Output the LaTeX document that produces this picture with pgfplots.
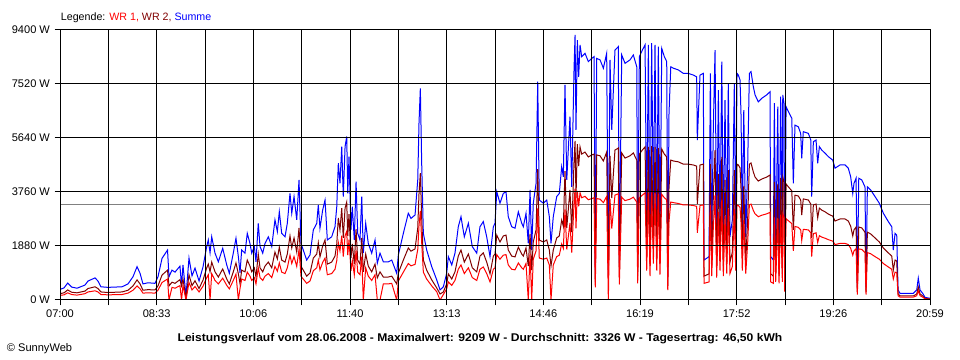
\documentclass[border=0pt]{standalone}
\usepackage{graphicx}
\usepackage{pgfplots}
\pgfplotsset{compat=1.18}
\usepackage{pgfplotstable}
\usepackage{fontspec}
\setmainfont{Liberation Sans}
\definecolor{wrone}{RGB}{255,0,0}
\definecolor{wrtwo}{RGB}{128,0,0}
\definecolor{summe}{RGB}{0,0,255}
\definecolor{avgline}{RGB}{128,128,128}

\pgfplotstableread{
m sum wr2 wr1
0 370 220 160
3.9 420 250 180
7.4 590 350 250
11.3 450 270 190
16.4 410 250 170
24.1 520 310 220
27.0 660 400 280
33.8 770 460 320
36.6 660 400 280
39.5 460 280 190
46.3 440 260 180
59.8 460 280 190
65.6 560 340 240
70.4 810 490 340
74.3 1160 700 490
77.2 930 560 390
80.0 560 340 240
84.9 600 360 250
91.6 580 350 240
94.5 810 490 340
98.4 1450 870 610
103.7 1740 1040 730
105.1 810 490 0
108.0 1040 620 440
110.9 970 580 410
115.7 1180 710 500
117.2 490 490 0
118.6 1220 730 510
121.5 140 80 0
124.4 1460 880 610
127.3 840 500 350
130.2 1110 670 470
134.1 660 400 280
137.9 1150 690 480
141.5 1860 1120 780
143.0 2090 1250 880
144.7 1640 980 0
146.3 2200 1320 920
149.5 1630 980 680
152.7 1330 800 560
156.9 1800 1080 760
160.8 1220 730 510
163.3 930 560 390
167.1 1630 980 680
169.7 2150 1290 900
172.0 1510 910 0
173.6 950 570 400
175.2 1740 1040 730
178.4 1630 980 680
180.6 2320 1390 970
183.2 1970 1180 830
184.9 1630 980 680
187.4 1860 1120 780
189.0 1330 800 560
191.2 2670 1600 1120
192.9 1860 1120 780
195.5 1630 980 680
197.7 1970 1180 830
200.9 2200 1320 920
204.2 1860 1120 780
207.3 2790 1670 1170
209.6 2380 1430 1000
211.5 3070 1840 1290
213.8 2320 1390 970
217.0 2200 1320 920
219.2 2670 1600 1120
221.8 3710 2230 1560
223.5 3020 1810 1270
225.7 3600 2160 1510
228.3 2790 1670 1170
230.5 4180 2510 1760
232.4 1970 1180 830
234.6 1740 1040 730
237.9 1390 830 580
241.1 1570 940 660
244.3 2440 1460 1020
247.6 2670 1600 1120
249.1 3310 1990 1390
250.7 2500 1500 1050
253.3 3130 1880 1310
255.6 3480 2090 1460
257.8 2090 1250 880
262.0 2200 1320 920
265.2 2550 1530 1070
266.9 3250 1950 1370
268.4 4760 2860 2000
270.0 4060 2440 1710
271.7 5340 3200 2240
273.2 3600 2160 1510
274.9 5340 3200 2240
276.5 5690 3410 2390
277.5 3710 2230 1560
278.7 4990 2990 2100
280.6 2440 1460 1020
281.9 3250 1950 1370
283.8 2090 1250 880
285.5 4120 2470 1730
287.1 2320 1390 970
289.3 2090 1250 880
291.0 3600 2160 1510
292.5 1630 980 0
294.8 2670 1600 1120
297.3 1970 1180 830
300.6 1630 980 680
303.8 2090 1250 880
306.0 1280 770 0
308.6 1630 980 0
311.8 1330 800 560
316.6 1330 800 560
319.9 1390 830 580
324.7 930 560 0
326.3 1570 940 660
331.1 2320 1390 970
335.9 3020 1810 1270
338.5 2840 1700 1190
342.4 2960 1780 1240
345.0 4180 2510 1760
346.2 6150 3690 2580
347.5 7370 4420 3100
348.8 4760 2860 2000
350.4 2320 1390 970
353.6 1740 1040 730
358.5 1160 700 490
363.3 700 420 290
366.5 350 210 0
369.7 460 280 190
372.9 930 560 390
374.5 1510 910 630
377.8 1220 730 510
380.9 1630 980 680
384.1 2550 1530 1070
386.7 2900 1740 1220
389.9 2200 1320 920
393.8 2670 1600 1120
397.6 1860 1120 780
401.9 1630 980 680
405.0 2550 1530 1070
408.2 2730 1640 1150
411.5 2200 1320 920
414.7 1510 910 630
417.9 2550 1530 1070
419.5 2670 1600 1120
421.2 3770 2260 1580
424.3 3370 2020 1420
427.5 3710 2230 1560
430.1 3770 2260 1580
432.3 2900 1740 1220
435.6 2550 1530 1070
438.8 2500 1500 1050
442.0 3070 1840 1290
445.3 2670 1600 1120
446.8 2550 1530 1070
449.4 3020 1810 1270
451.6 1970 1180 0
453.3 3830 2300 1610
454.9 1740 1040 0
456.4 3370 2020 1420
459.1 4060 2440 1710
460.7 7600 4560 3190
461.3 5920 3550 2490
462.2 3480 2090 1460
466.1 3370 2020 1420
469.4 3480 2090 1460
471.9 2900 1740 1220
473.5 1970 1180 0
475.7 2900 1740 1220
479.0 3600 2160 1510
481.5 3710 2230 1560
483.8 4640 2780 1950
485.4 4290 2570 1800
487.0 7490 4490 3150
488.7 4180 2510 1760
491.8 6380 3830 2680
493.5 3940 2360 1650
495.7 8010 4810 3360
496.7 9230 5540 3880
497.6 5920 3550 2490
498.9 9050 5430 3800
500.2 7770 4660 3260
501.5 8880 5330 3730
503.1 8470 5080 3560
506.3 8590 5150 3610
509.5 8300 4980 3490
512.8 8410 5050 3530
515.0 8470 5080 3560
516.2 1040 620 440
517.6 8410 5050 3530
520.8 8360 5020 3510
524.0 8070 4840 3390
527.2 8590 5150 3610
528.8 810 800 0
530.4 8360 5020 3510
532.1 5920 3550 2490
535.2 8700 5220 3650
538.4 8820 5290 3700
539.4 1280 770 540
541.7 8530 5120 3580
544.9 8240 4940 3460
549.7 8360 5020 3510
552.9 8530 5120 3580
556.2 8120 4870 3410
557.1 1390 830 580
558.7 8470 5080 3560
561.6 8700 5220 3650
564.2 8880 5330 3730
565.8 2440 1460 1020
567.4 8880 5330 3730
569.0 1970 1180 830
570.6 8940 5360 3750
572.2 3020 1810 1270
573.8 8880 5330 3730
575.5 2440 1460 1020
577.0 8820 5290 3700
578.6 2090 1250 880
580.3 8760 5260 3680
582.8 8470 5080 3560
585.1 8300 4980 3490
586.1 810 490 340
587.3 6500 3900 2730
589.0 8120 4870 3410
591.5 8070 4840 3390
596.3 8010 4810 3360
601.1 7890 4730 3310
605.9 7890 4730 3310
610.8 7830 4700 3290
614.0 7770 4660 3260
614.6 5570 3340 2340
617.2 7830 4700 3290
620.4 7890 4730 3310
621.1 1390 830 580
625.9 1510 910 630
627.2 7890 4730 3310
628.5 1970 1180 830
630.0 5920 3550 2490
631.7 8700 5220 3650
633.3 1860 1120 780
634.9 7310 4390 3070
636.5 2440 1460 1020
638.2 8300 4980 3490
639.7 1970 1180 830
641.3 6960 4180 2920
643.0 2200 1320 920
644.5 7540 4520 3170
646.1 2200 1320 920
648.4 2790 1670 1170
650.3 7540 4520 3170
651.6 2440 1460 1020
652.9 7890 4730 3310
654.2 7830 4700 3290
655.8 7660 4600 3220
656.8 6380 3830 2680
658.0 2440 1460 1020
659.4 6610 3970 2780
661.3 2200 1320 920
663.2 4760 2860 2000
664.8 7890 4730 3310
666.4 7950 4770 3340
668.6 7430 4460 3120
670.3 7140 4280 3000
673.4 6900 4140 2900
676.7 7020 4210 2950
681.5 7140 4280 3000
684.7 7250 4350 3050
685.4 1510 910 630
687.9 1390 830 580
688.9 6850 4110 2880
690.2 1510 910 630
692.2 6730 4040 2830
693.4 1390 830 580
695.0 7080 4250 2970
696.6 1510 910 630
697.0 7140 4280 3000
698.2 6850 4110 2880
698.9 700 420 290
700.2 6730 4040 2830
702.4 6560 3940 2760
705.7 6330 3800 2660
707.2 4060 2440 1710
708.8 6090 3650 2560
712.0 6030 3620 2530
714.3 5800 3480 2440
715.3 4930 2960 2070
716.8 5860 3520 2460
721.7 5800 3480 2440
724.0 5570 3340 2340
724.9 3600 2160 1510
726.5 5510 3310 2310
729.1 5570 3340 2340
730.7 4760 2860 2000
732.3 5340 3200 2240
734.6 5220 3130 2190
737.8 5110 3070 2150
741.0 4990 2990 2100
745.2 4870 2920 2050
747.4 4590 2750 1930
752.2 4700 2820 1970
757.1 4700 2820 1970
760.2 4590 2750 1930
762.5 4290 2570 1800
764.5 3710 2230 1560
765.7 4060 2440 1710
767.7 4240 2540 1780
768.9 460 280 190
770.3 4240 2540 1780
773.2 4180 2510 1760
776.3 3940 2360 1650
777.3 460 280 190
778.6 3940 2360 1650
781.8 3830 2300 1610
786.0 3600 2160 1510
790.1 3370 2020 1420
794.0 3020 1810 1270
798.8 2730 1640 1150
802.1 2550 1530 1070
803.6 1740 1040 730
805.3 2320 1390 970
806.9 2260 1360 950
808.2 350 210 150
810.1 230 140 100
822.9 230 140 100
826.2 350 210 150
827.7 760 460 320
829.4 350 210 150
832.0 230 140 100
834.2 90 50 40
839 60 40 20
}\data

\begin{document}
\begin{tikzpicture}
\useasboundingbox (-45pt,-45pt) rectangle (675pt,225pt);
\begin{axis}[
  scale only axis, width=652.5pt, height=202.5pt,
  at={(0pt,0pt)}, anchor=south west,
  xmin=0, xmax=839, ymin=0, ymax=9400,
  axis on top,
  xtick={0,93.222,186.444,279.667,372.889,466.111,559.333,652.556,745.778,839},
  xticklabels={07:00,08:33,10:06,11:40,13:13,14:46,16:19,17:52,19:26,20:59},
  minor xtick={46.611,139.833,233.056,326.278,419.5,512.722,605.944,699.167,792.389},
  ytick={0,1880,3760,5640,7520,9400},
  yticklabels={0 W,1880 W,3760 W,5640 W,7520 W,9400 W},
  grid=both,
  major grid style={black, line width=0.75pt},
  minor grid style={black, line width=0.75pt},
  axis line style={black, line width=0.75pt},
  tick align=outside, tick pos=left,
  major tick length=4pt, minor tick length=4pt,
  every tick/.style={black, line width=0.75pt},
  minor tick style={black, line width=0.75pt},
  xticklabel style={font=\fontsize{8.3}{10}\selectfont},
  yticklabel style={font=\fontsize{8.3}{10}\selectfont},
]
\addplot[avgline, line width=0.75pt, forget plot] coordinates {(0,3326) (839,3326)};
\addplot[summe, line width=0.75pt] table[x=m,y=sum]{\data};
\addplot[wrtwo, line width=0.75pt] table[x=m,y=wr2]{\data};
\addplot[wrone, line width=0.75pt] table[x=m,y=wr1]{\data};
\end{axis}
\node[anchor=base west, inner sep=0pt, font=\fontsize{8}{10}\selectfont] at (0.5pt,209.6pt)
  {Legende: \textcolor{wrone}{WR 1,} \textcolor{wrtwo}{WR 2,} \textcolor{summe}{Summe}};
\node[anchor=base, inner sep=0pt, font=\bfseries\fontsize{8.4}{10}\selectfont] at (315pt,-31pt)
  {\scalebox{1.08}[1]{Leistungsverlauf vom 28.06.2008 - Maximalwert: 9209 W - Durchschnitt: 3326 W - Tagesertrag: 46,50 kWh}};
\node[anchor=base west, inner sep=0pt, font=\fontsize{8.3}{10}\selectfont] at (-40pt,-39pt)
  {\textcopyright{} SunnyWeb};
\end{tikzpicture}
\end{document}
